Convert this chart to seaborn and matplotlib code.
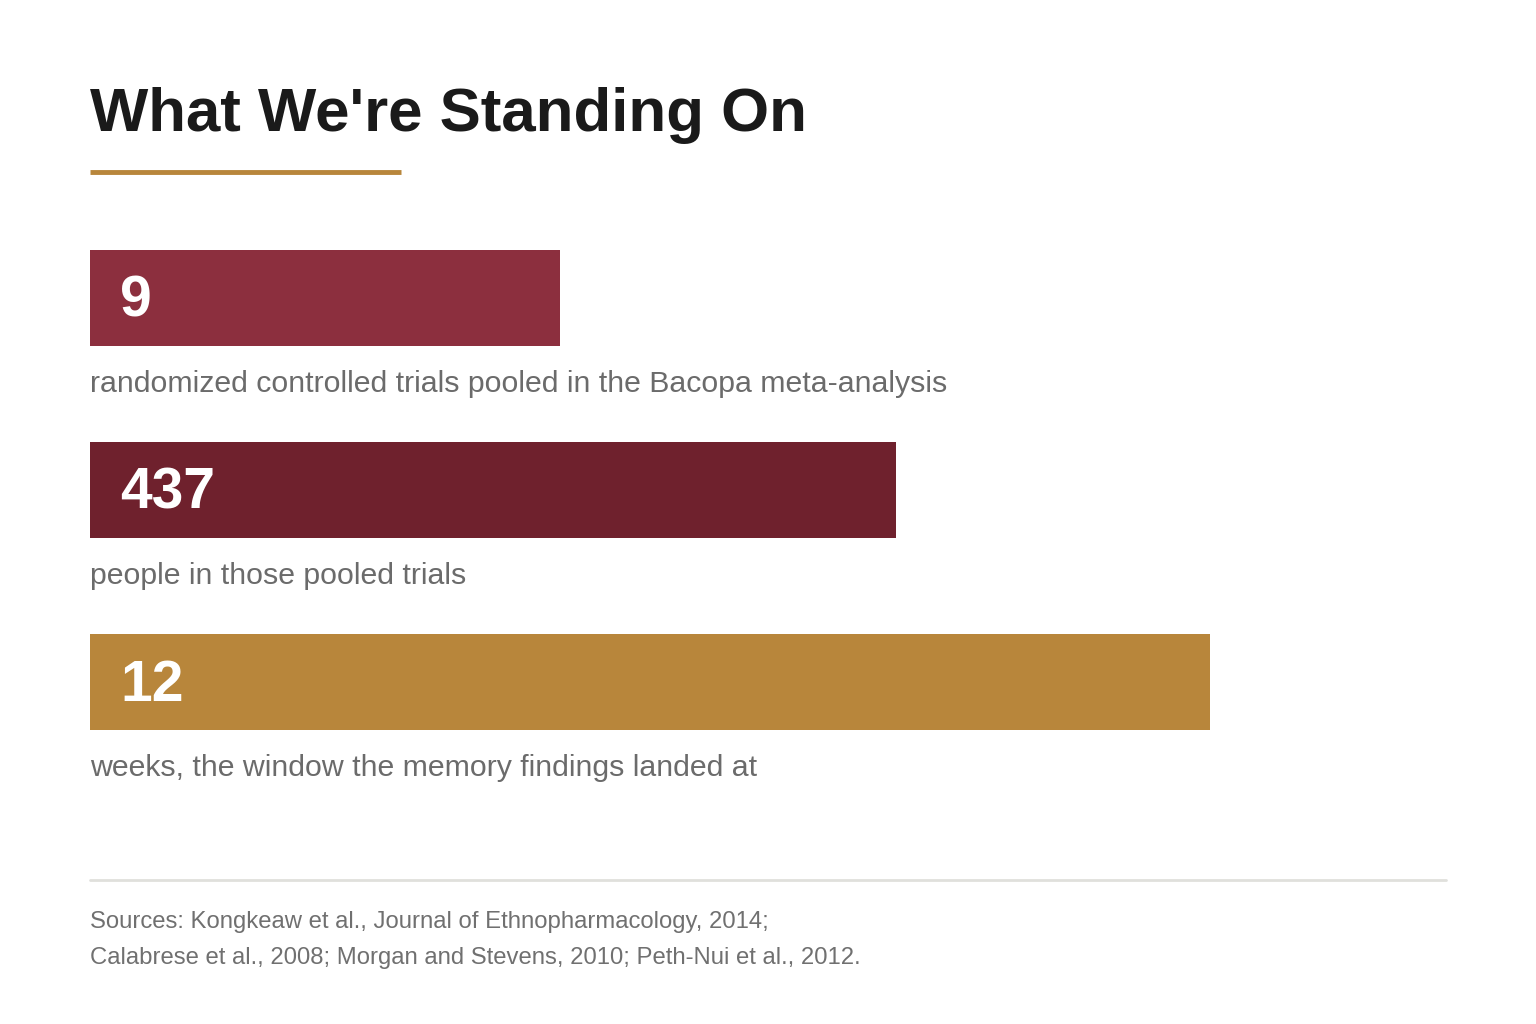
import matplotlib
matplotlib.use("Agg")
import matplotlib.pyplot as plt
import seaborn as sns
import pandas as pd

values = ["9", "437", "12"]
captions = ["randomized controlled trials pooled in the Bacopa meta-analysis",
            "people in those pooled trials",
            "weeks, the window the memory findings landed at"]
bar_extent = [0.42, 0.72, 1.0]
colors = ["#8c2f3e", "#6f212d", "#b8863b"]
title = "What We're Standing On"
sources = ["Sources: Kongkeaw et al., Journal of Ethnopharmacology, 2014;",
           "Calabrese et al., 2008; Morgan and Stevens, 2010; Peth-Nui et al., 2012."]

sns.set_theme(style="white")
plt.rcParams['font.family'] = ['Liberation Sans', 'DejaVu Sans']
W, H = 1536, 1024
fig = plt.figure(figsize=(W/100, H/100), dpi=100)
fig.patch.set_facecolor("white")

ax = fig.add_axes([90/W, 1-730/H, 1120/W, 480/H])
df = pd.DataFrame({"row": [0, 1, 2], "ext": bar_extent})
sns.barplot(data=df, x="ext", y="row", orient="h", hue="row", palette=colors,
            legend=False, width=0.5, saturation=1, linewidth=0, ax=ax)
ax.set_xlim(0, 1)
ax.set_ylim(2.25, -0.25)
ax.axis("off")
for i, (v, c) in enumerate(zip(values, captions)):
    ax.text(0.027, i + 0.02, v, color="white", fontsize=41, fontweight="bold", va="center", ha="left")
    ax.text(0, i + 0.45, c, color="#6b6b6b", fontsize=21.8, va="center", ha="left")

fig.text(90/W, 1-115/H, title, fontsize=44.5, fontweight="bold", color="#1a1a1a", va="center", ha="left")
fig.add_artist(plt.Line2D([90/W, 401/W], [1-172/H]*2, color="#b8863b", lw=3.5, solid_capstyle="butt"))
fig.add_artist(plt.Line2D([90/W, 1446/W], [1-880/H]*2, color="#e0e0dc", lw=2))
fig.text(90/W, 1-922/H, sources[0], fontsize=17.2, color="#707070", va="center", ha="left")
fig.text(90/W, 1-958/H, sources[1], fontsize=17.2, color="#707070", va="center", ha="left")
fig.savefig("out.png", dpi=100)
